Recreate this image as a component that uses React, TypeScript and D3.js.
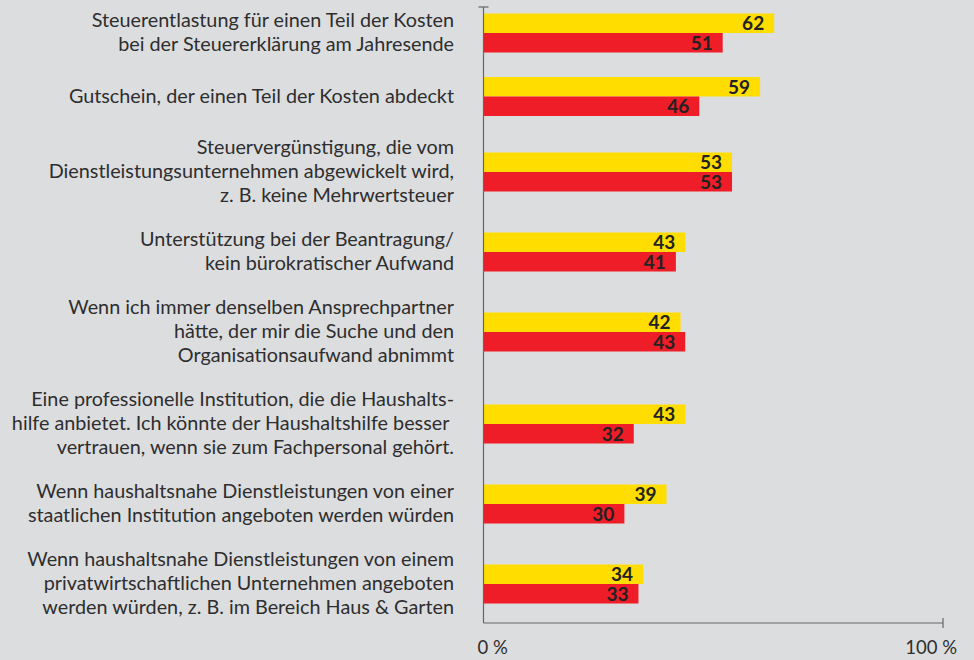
import React, { useEffect, useRef } from "react";
import * as d3 from "d3";

const labelLines: string[][] = [
  ["Steuerentlastung für einen Teil der Kosten", "bei der Steuererklärung am Jahresende"],
  ["Gutschein, der einen Teil der Kosten abdeckt"],
  ["Steuervergünstigung, die vom", "Dienstleistungsunternehmen abgewickelt wird,", "z. B. keine Mehrwertsteuer"],
  ["Unterstützung bei der Beantragung/", "kein bürokratischer Aufwand"],
  ["Wenn ich immer denselben Ansprechpartner", "hätte, der mir die Suche und den", "Organisationsaufwand abnimmt"],
  ["Eine professionelle Institution, die die Haushalts-", "hilfe anbietet. Ich könnte der Haushaltshilfe besser ", "vertrauen, wenn sie zum Fachpersonal gehört."],
  ["Wenn haushaltsnahe Dienstleistungen von einer", "staatlichen Institution angeboten werden würden"],
  ["Wenn haushaltsnahe Dienstleistungen von einem", "privatwirtschaftlichen Unternehmen angeboten", "werden würden, z. B. im Bereich Haus & Garten"],
];
const yellowValues = [62, 59, 53, 43, 42, 43, 39, 34];
const redValues = [51, 46, 53, 41, 43, 32, 30, 33];
const tickLabels = ["0 %", "100 %"];

const W = 974;
const H = 660;
const BG = "#dcdddf";
const YELLOW = "#ffdd00";
const RED = "#ee1d27";
const TEXT = "#2e2e2e";
const FONT = "Lato, 'Open Sans', sans-serif";

export default function App() {
  const ref = useRef<SVGSVGElement>(null);
  useEffect(() => {
    document.body.style.margin = "0";
    document.body.style.background = BG;
    const svg = d3.select(ref.current!);
    svg.selectAll("*").remove();

    const lh = 24;
    const barH = 19.5;
    const gap = 20;
    const blockH = labelLines.map((l) => Math.max(l.length * lh, 2 * barH));
    const centers: number[] = [];
    let top = 9;
    blockH.forEach((h) => {
      centers.push(top + h / 2);
      top += h + gap;
    });
    const idx = d3.range(labelLines.length);
    const y = d3.scaleOrdinal<number, number>().domain(idx).range(centers);

    const x = d3.scaleLinear().domain([0, 100]).range([484, 952]);
    const axisX = d3.scaleLinear().domain([0, 100]).range([483.5, 943]);

    svg.append("rect").attr("width", W).attr("height", H).attr("fill", BG);

    // labels
    const labelX = 454;
    idx.forEach((i) => {
      const lines = labelLines[i];
      const t0 = y(i) - (lines.length * lh) / 2;
      svg
        .append("text")
        .attr("text-anchor", "end")
        .attr("font-family", FONT)
        .attr("font-size", 19.8)
        .attr("fill", TEXT)
        .selectAll("tspan")
        .data(lines)
        .join("tspan")
        .attr("x", labelX)
        .attr("y", (_, k) => t0 + k * lh + 18)
        .text((d) => d);
    });

    const series = [
      { values: yellowValues, color: YELLOW, off: -barH },
      { values: redValues, color: RED, off: 0 },
    ];
    series.forEach((s) => {
      svg
        .append("g")
        .selectAll("rect")
        .data(s.values)
        .join("rect")
        .attr("x", x(0))
        .attr("y", (_, i) => y(i) + s.off)
        .attr("width", (d) => x(d) - x(0))
        .attr("height", barH)
        .attr("fill", s.color);
      svg
        .append("g")
        .selectAll("text")
        .data(s.values)
        .join("text")
        .attr("x", (d) => x(d) - 10)
        .attr("y", (_, i) => y(i) + s.off + barH / 2 + 7)
        .attr("text-anchor", "end")
        .attr("font-family", FONT)
        .attr("font-weight", "bold")
        .attr("font-size", 19)
        .attr("fill", "#222")
        .text((d) => d);
    });

    // axes
    const axisColor = "#666";
    const yBottom = 623;
    svg.append("line").attr("x1", axisX(0)).attr("x2", axisX(0)).attr("y1", 7).attr("y2", yBottom).attr("stroke", axisColor).attr("stroke-width", 1.2);
    svg.append("line").attr("x1", axisX(0) - 5).attr("x2", axisX(0) + 5).attr("y1", 7).attr("y2", 7).attr("stroke", axisColor).attr("stroke-width", 1.2);
    svg.append("line").attr("x1", axisX(0)).attr("x2", axisX(100)).attr("y1", yBottom).attr("y2", yBottom).attr("stroke", axisColor).attr("stroke-width", 1.2);
    svg.append("line").attr("x1", axisX(100)).attr("x2", axisX(100)).attr("y1", yBottom - 5).attr("y2", yBottom + 5).attr("stroke", axisColor).attr("stroke-width", 1.2);

    const ticks = [0, 100];
    svg
      .append("g")
      .selectAll("text")
      .data(ticks)
      .join("text")
      .attr("x", (d) => (d === 0 ? axisX(d) - 6 : axisX(d) + 14))
      .attr("y", 654)
      .attr("text-anchor", (d) => (d === 0 ? "start" : "end"))
      .attr("font-family", FONT)
      .attr("font-size", 18.5)
      .attr("fill", TEXT)
      .text((_, i) => tickLabels[i]);
  }, []);
  return (
    <svg ref={ref} width={W} height={H} style={{ display: "block" }} />
  );
}
